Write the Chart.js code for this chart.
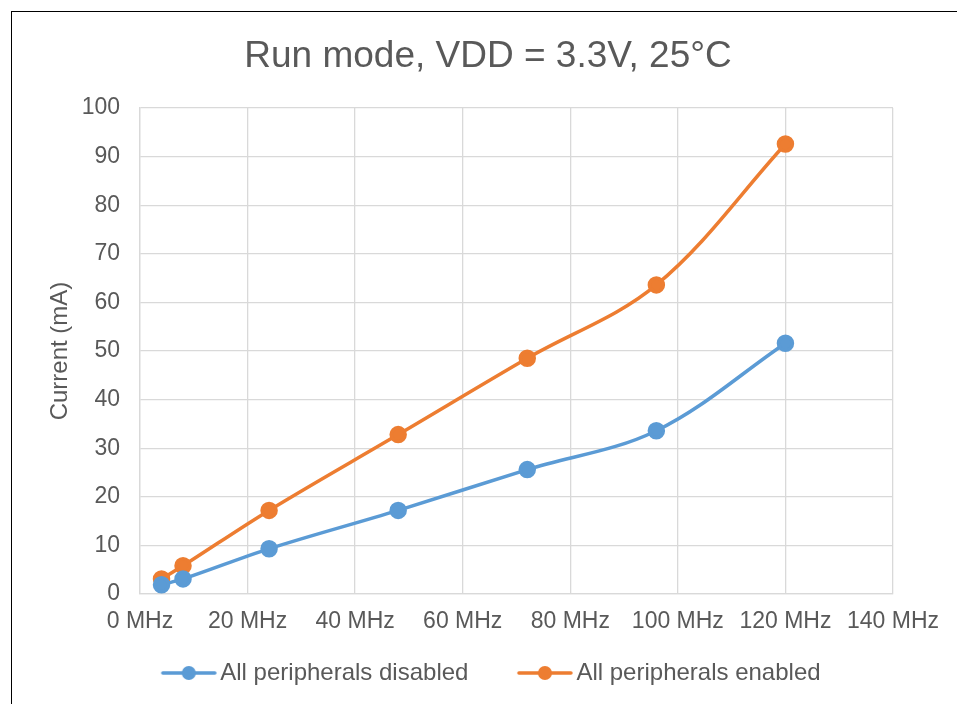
<!doctype html>
<html lang="en">
<head>
  <meta charset="utf-8">
  <title>Run mode current</title>
  <script src="https://cdn.jsdelivr.net/npm/chart.js@4.4.0/dist/chart.umd.min.js"></script>
  <style>
    html, body { margin: 0; padding: 0; background: #fff; overflow: hidden; }
    #wrap { position: relative; width: 957px; height: 704px; }
    #frame { position: absolute; left: 11px; top: 11px; width: 1000px; height: 800px;
             border: 1.5px solid #000; pointer-events: none; }
  </style>
</head>
<body>
<div id="wrap">
  <canvas id="myChart" width="957" height="704"></canvas>
  <div id="frame"></div>
</div>
<script>
  // frequency (MHz) and current (mA)
  const freqs = [4, 8, 24, 48, 72, 96, 120];
  const disabled = [1.9, 3.1, 9.3, 17.2, 25.6, 33.6, 51.6];
  const enabled = [3.1, 5.8, 17.2, 32.8, 48.5, 63.6, 92.6];
  const seriesNames = ['All peripherals disabled', 'All peripherals enabled'];

  const blue = '#5B9BD5';
  const orange = '#ED7D31';
  const textCol = '#595959';

  function pts(ys) {
    return freqs.map((f, i) => ({ x: f, y: ys[i] }));
  }

  // legend marker: short line with a dot, drawn in the right part of the box
  const boxW = 71;
  function marker(col) {
    const c = document.createElement('canvas');
    c.width = 90; c.height = 16;
    const g = c.getContext('2d');
    g.strokeStyle = col; g.lineWidth = 3.5; g.lineCap = 'round';
    g.beginPath(); g.moveTo(35, 8); g.lineTo(87, 8); g.stroke();
    g.fillStyle = col;
    g.beginPath(); g.arc(61, 8, 7, 0, Math.PI * 2); g.fill();
    return c;
  }
  const markers = [marker(blue), marker(orange)];

  Chart.defaults.font.family = '"Liberation Sans", Arial, sans-serif';
  Chart.defaults.color = textCol;

  const ctx = document.getElementById('myChart').getContext('2d');
  const myChart = new Chart(ctx, {
    type: 'scatter',
    data: {
      datasets: [{
        label: seriesNames[0],
        data: pts(disabled),
        showLine: true,
        borderColor: blue,
        backgroundColor: blue,
        borderWidth: 3.5,
        pointRadius: 7,
        pointHoverRadius: 7,
        tension: 0.35
      }, {
        label: seriesNames[1],
        data: pts(enabled),
        showLine: true,
        borderColor: orange,
        backgroundColor: orange,
        borderWidth: 3.5,
        pointRadius: 7,
        pointHoverRadius: 7,
        tension: 0.35
      }]
    },
    options: {
      responsive: false,
      animation: false,
      layout: { padding: { left: 19, right: 0, top: 0, bottom: 9 } },
      plugins: {
        title: {
          display: true,
          text: 'Run mode, VDD = 3.3V, 25°C',
          color: textCol,
          font: { size: 37, weight: 'normal' },
          padding: { top: 35, bottom: 28.6 }
        },
        legend: {
          position: 'bottom',
          labels: {
            color: textCol,
            font: { size: 24 },
            usePointStyle: true,
            pointStyleWidth: boxW,
            padding: 25,
            generateLabels: function(chart) {
              const n = chart.data.datasets.length;
              return chart.data.datasets.map((ds, i) => ({
                // trailing spaces on the last item nudge the centred row left
                text: i === n - 1 ? ds.label + '  \u2009' : ds.label,
                pointStyle: markers[i],
                fillStyle: ds.borderColor,
                strokeStyle: ds.borderColor,
                lineWidth: 0,
                hidden: false,
                datasetIndex: i,
                fontColor: textCol
              }));
            }
          }
        },
        tooltip: { enabled: false }
      },
      scales: {
        x: {
          type: 'linear',
          min: 0,
          max: 140,
          ticks: {
            stepSize: 20,
            padding: 14,
            color: textCol,
            font: { size: 23 },
            maxRotation: 0,
            callback: function(value) { return value + ' MHz'; }
          },
          grid: { color: '#D9D9D9', lineWidth: 1.3, drawTicks: false },
          border: { color: '#D9D9D9', width: 1.3 },
          afterFit: function(scale) { scale.height = 42; }
        },
        y: {
          min: 0,
          max: 100,
          ticks: {
            stepSize: 10,
            padding: 20,
            color: textCol,
            font: { size: 23 }
          },
          grid: { color: '#D9D9D9', lineWidth: 1.3, drawTicks: false },
          border: { color: '#D9D9D9', width: 1.3 },
          title: {
            display: true,
            text: 'Current (mA)',
            color: textCol,
            font: { size: 24 },
            padding: { top: 26.6, bottom: 0 }
          },
          afterFit: function(scale) { scale.width = 121; }
        },
        // empty right-hand axis, only reserves space right of the plot
        y2: {
          position: 'right',
          ticks: { display: false },
          grid: { display: false, drawOnChartArea: false },
          border: { display: false },
          afterFit: function(scale) { scale.width = 64; }
        }
      }
    }
  });
</script>
</body>
</html>
